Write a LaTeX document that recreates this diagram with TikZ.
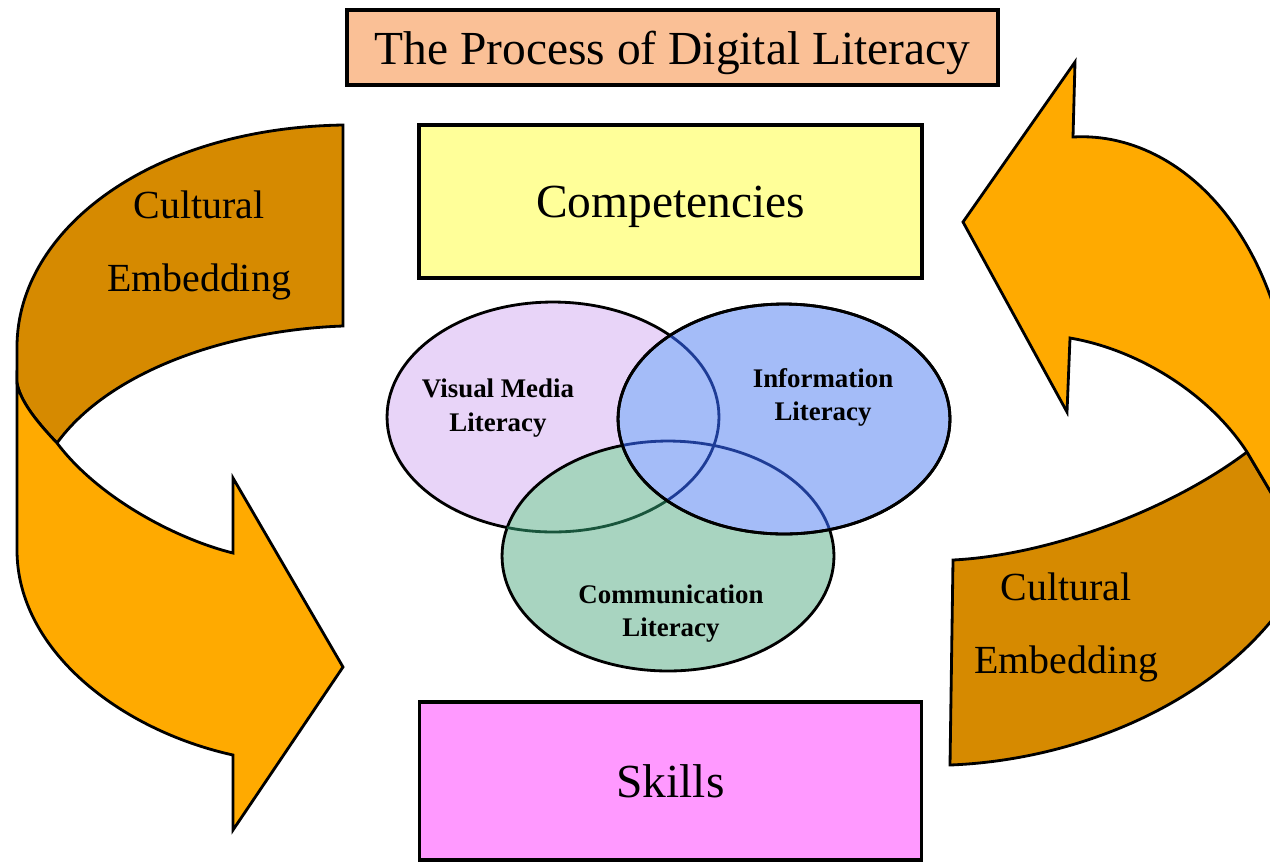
\documentclass[tikz,border=0pt]{standalone}
\usepackage{fontspec}
\setmainfont{Liberation Serif}
\usetikzlibrary{shapes.geometric}
\definecolor{lightor}{RGB}{255,170,0}
\definecolor{darkor}{RGB}{214,138,0}
\definecolor{titlefill}{RGB}{250,192,150}
\definecolor{compfill}{RGB}{255,255,153}
\definecolor{skillfill}{RGB}{255,153,255}
\definecolor{visfill}{RGB}{232,212,248}
\definecolor{infofill}{RGB}{164,188,248}
\definecolor{comfill}{RGB}{168,212,192}
\definecolor{innerblue}{RGB}{30,60,150}
\definecolor{innergreen}{RGB}{25,85,60}
\begin{document}
\begin{tikzpicture}[x=0.02cm,y=-0.02cm,
  ribbon/.style={draw=black, line width=1.6pt, line join=miter},
  box/.style={draw=black, line width=1.8pt, rectangle, inner sep=0pt, text depth=0pt, font=\fontsize{27}{30}\selectfont},
  venn/.style={ellipse, draw=black, line width=1.6pt, minimum width=6.64cm, minimum height=4.6cm, inner sep=0pt},
  vline/.style={line width=1.6pt},
  venntext/.style={align=center, font=\bfseries\fontsize{15.3}{19}\selectfont},
  culttext/.style={align=center, font=\fontsize{22.7}{41.4}\selectfont}]

\useasboundingbox (0,0) rectangle (1270,863);
\begin{scope}
\clip (0,0) rectangle (1270,863);

% left ribbon: dark band
\draw[ribbon, fill=darkor] (343,125) -- (343,326)
  .. controls (230,330) and (110,370) .. (57,443)
  .. controls (35,420) and (20,400) .. (17,383)
  -- (17,347)
  .. controls (17,230) and (150,128) .. (343,125) -- cycle;
% left ribbon: light band with head
\draw[ribbon, fill=lightor] (17,383)
  .. controls (20,400) and (35,420) .. (57,443)
  .. controls (100,500) and (180,540) .. (233,553)
  -- (233,478) -- (343,667) -- (233,830) -- (233,755)
  .. controls (120,730) and (17,650) .. (17,550) -- cycle;

% right ribbon: dark band
\draw[ribbon, fill=darkor] (1247,452)
  .. controls (1170,510) and (1050,555) .. (953,560)
  -- (950,765)
  .. controls (1080,760) and (1230,700) .. (1300,580)
  -- (1292,528) -- cycle;
% right ribbon: light band with head
\draw[ribbon, fill=lightor] (1073,137) -- (1075,62) -- (963,222) -- (1067,412) -- (1070,338)
  .. controls (1140,350) and (1210,395) .. (1247,452)
  -- (1292,528)
  .. controls (1320,260) and (1190,130) .. (1073,137) -- cycle;
\end{scope}

% boxes
\node[box, fill=titlefill, minimum width=13.02cm, minimum height=1.5cm] (title) at (672.5,47.5) {The Process of Digital Literacy};
\node[box, fill=compfill, minimum width=10.06cm, minimum height=3.06cm] (comp) at (670.5,201.5) {Competencies};
\node[box, fill=skillfill, minimum width=10.04cm, minimum height=3.16cm] (skills) at (670.5,781) {Skills};

% Venn diagram
\coordinate (cv) at (553,417);
\coordinate (ci) at (784,419);
\coordinate (cc) at (668,556);
\node[venn, fill=visfill] (visual) at (cv) {};
\node[venn, fill=comfill] (comm) at (cc) {};
\begin{scope}
  \clip (cc) ellipse [x radius=3.32cm, y radius=2.3cm];
  \draw[vline, innergreen] (cv) ellipse [x radius=3.32cm, y radius=2.3cm];
\end{scope}
\node[venn, fill=infofill] (info) at (ci) {};
\begin{scope}
  \clip (ci) ellipse [x radius=3.32cm, y radius=2.3cm];
  \draw[vline, innerblue] (cv) ellipse [x radius=3.32cm, y radius=2.3cm];
  \draw[vline, innerblue] (cc) ellipse [x radius=3.32cm, y radius=2.3cm];
\end{scope}
\draw[vline, black] (ci) ellipse [x radius=3.32cm, y radius=2.3cm];

% texts
\node[venntext] (vtext) at (498,408) {Visual Media\\Literacy};
\node[venntext] (itext) at (823,397.5) {Information\\Literacy};
\node[venntext] (ctext) at (671,613.5) {Communication\\Literacy};
\node[culttext] (lcult) at (199,245.5) {Cultural\\Embedding};
\node[culttext] (rcult) at (1066,627.5) {Cultural\\Embedding};
\end{tikzpicture}
\end{document}
